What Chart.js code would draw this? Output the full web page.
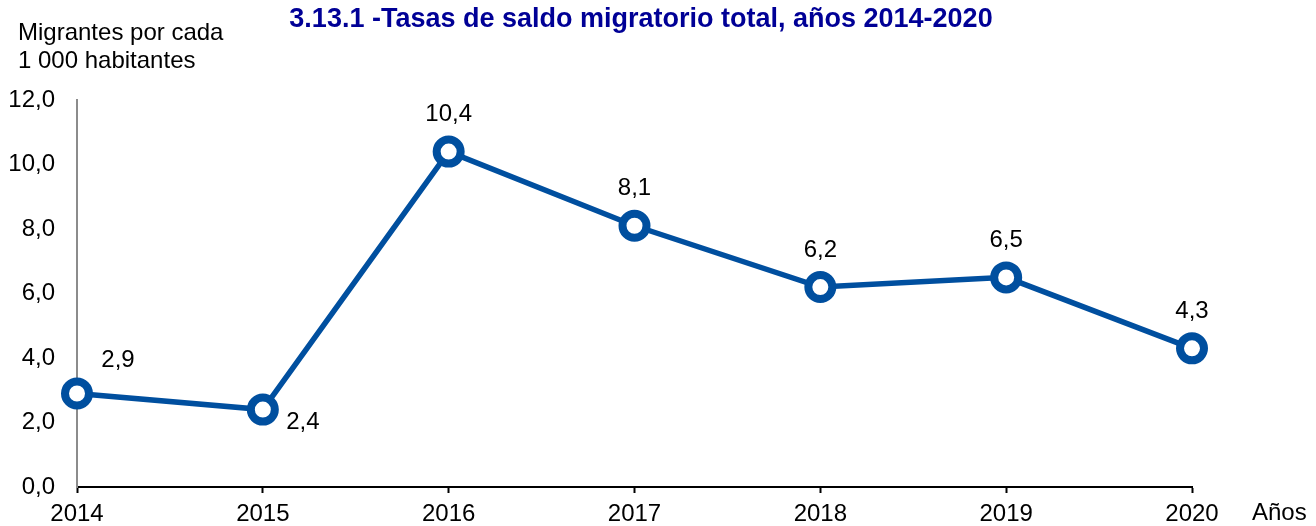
<!DOCTYPE html>
<html lang="es">
<head>
    <meta charset="UTF-8">
    <title>Tasas de saldo migratorio total</title>
    <script src="https://cdn.jsdelivr.net/npm/chart.js"></script>
    <style>
        body { margin: 0; padding: 0; background: #fff; }
        #wrap { width: 1316px; height: 526px; position: relative; }
    </style>
</head>
<body>
    <div id="wrap"><canvas id="migChart"></canvas></div>

    <script>
        // Datos
        const years = ['2014', '2015', '2016', '2017', '2018', '2019', '2020'];
        const rates = [2.9, 2.4, 10.4, 8.1, 6.2, 6.5, 4.3];
        // posición de cada etiqueta respecto a su punto: [dx, dy]
        const labelOffsets = [[41, -33], [40, 13], [0, -37], [0, -37], [0, -37], [0, -37], [0, -37]];

        const FONT = 'Arial, "Liberation Sans", sans-serif';
        const BLUE = '#004f9f';

        const fmt = v => v.toFixed(1).replace('.', ',');

        // Textos fijos y etiquetas de datos
        const annotations = {
            id: 'annotations',
            afterDatasetsDraw(chart) {
                const ctx = chart.ctx;
                const meta = chart.getDatasetMeta(0);
                ctx.save();
                ctx.fillStyle = '#000';
                ctx.font = '24px ' + FONT;
                ctx.textAlign = 'center';
                ctx.textBaseline = 'middle';
                meta.data.forEach((pt, i) => {
                    const off = labelOffsets[i];
                    ctx.fillText(fmt(rates[i]), pt.x + off[0], pt.y + off[1]);
                });

                // titulo
                ctx.fillStyle = '#000096';
                ctx.font = 'bold 27px ' + FONT;
                ctx.fillText('3.13.1 -Tasas de saldo migratorio total, años 2014-2020', 641, 20);

                // titulo del eje y
                ctx.fillStyle = '#000';
                ctx.font = '24px ' + FONT;
                ctx.textAlign = 'left';
                ctx.fillText('Migrantes por cada', 18, 33);
                ctx.fillText('1 000 habitantes', 18, 61);

                // titulo del eje x
                ctx.fillText('Años', 1252, 513);
                ctx.restore();
            }
        };

        const ctx = document.getElementById('migChart').getContext('2d');
        new Chart(ctx, {
            type: 'line',
            data: {
                labels: years,
                datasets: [{
                    data: rates,
                    borderColor: BLUE,
                    borderWidth: 5.5,
                    pointRadius: 12,
                    pointHoverRadius: 12,
                    pointBorderWidth: 8,
                    pointBackgroundColor: '#fff',
                    pointBorderColor: BLUE,
                    tension: 0,
                    clip: false
                }]
            },
            options: {
                responsive: true,
                maintainAspectRatio: false,
                animation: false,
                layout: {
                    padding: { top: 100, right: 124, bottom: 0, left: 0 }
                },
                plugins: {
                    legend: { display: false },
                    tooltip: { enabled: false }
                },
                scales: {
                    x: {
                        offset: false,
                        grid: {
                            drawOnChartArea: false,
                            drawTicks: true,
                            tickLength: 6,
                            tickWidth: 2,
                            tickColor: '#000'
                        },
                        border: { color: '#000', width: 2 },
                        ticks: {
                            color: '#000',
                            font: { family: FONT, size: 24 },
                            padding: 7,
                            maxRotation: 0,
                            autoSkip: false
                        },
                        afterFit: scale => { scale.height = 39; }
                    },
                    y: {
                        min: 0,
                        max: 12,
                        grid: { display: false, drawTicks: false },
                        border: { color: '#8c8c8c', width: 2 },
                        ticks: {
                            stepSize: 2,
                            color: '#000',
                            font: { family: FONT, size: 24 },
                            padding: 22,
                            callback: v => fmt(v)
                        },
                        afterFit: scale => { scale.width = 77; }
                    }
                }
            },
            plugins: [annotations]
        });
    </script>
</body>
</html>
